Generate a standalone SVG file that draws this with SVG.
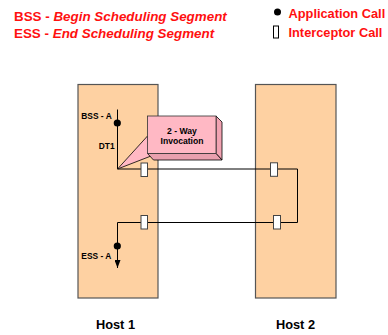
<svg xmlns="http://www.w3.org/2000/svg" width="388" height="335" viewBox="0 0 388 335">
  <style>
    .legend { font-family: "Liberation Sans", Arial, sans-serif; font-weight: bold; font-size: 13.4px; fill: #ff1010; }
    .legend .it { font-style: italic; }
    .legend.key { font-size: 12.8px; }
    .host { fill: #fed1a2; stroke: #555; stroke-width: 1.2; }
    .hostlabel { font-family: "Liberation Sans", Arial, sans-serif; font-weight: bold; font-size: 12.8px; fill: #000; text-anchor: middle; }
    .small { font-family: "Liberation Sans", Arial, sans-serif; font-weight: bold; font-size: 8.4px; fill: #000; }
    .call { font-family: "Liberation Sans", Arial, sans-serif; font-weight: bold; font-size: 8.6px; fill: #000; text-anchor: middle; }
    .wire { fill: none; stroke: #000; stroke-width: 1; }
    .icpt { fill: #fff; stroke: #444; stroke-width: 1; }
  </style>
  <defs>
    <marker id="arrow" viewBox="0 0 8 6" refX="8" refY="3" markerWidth="8" markerHeight="6" markerUnits="userSpaceOnUse" orient="auto">
      <path d="M0,0 L8,3 L0,6 Z" fill="#000"/>
    </marker>
  </defs>
  <rect width="388" height="335" fill="#fff"/>

  <!-- legend -->
  <g id="legend">
    <text class="legend" x="14" y="21">BSS - <tspan class="it">Begin Scheduling Segment</tspan></text>
    <text class="legend" x="14" y="38">ESS - <tspan class="it">End Scheduling Segment</tspan></text>
    <circle cx="277.5" cy="12" r="3.5" fill="#000"/>
    <text class="legend key" x="288.5" y="18">Application Call</text>
    <rect x="273.5" y="26" width="5" height="12" fill="#fff" stroke="#000" stroke-width="1"/>
    <text class="legend key" x="288.5" y="37">Interceptor Call</text>
  </g>

  <!-- hosts -->
  <g id="host1">
    <rect class="host" x="78" y="84.5" width="80" height="213.5"/>
    <text class="hostlabel" x="115.5" y="329">Host 1</text>
  </g>
  <g id="host2">
    <rect class="host" x="255.5" y="84.5" width="80.5" height="213.5"/>
    <text class="hostlabel" x="295.5" y="329">Host 2</text>
  </g>

  <!-- call path -->
  <g id="connectors">
    <path class="wire" d="M117.5,109.5 V169 H297.5 V222.5 H117.5 V268" marker-end="url(#arrow)"/>
  </g>

  <!-- application calls -->
  <g id="bss">
    <circle cx="117.3" cy="123" r="3.6" fill="#000"/>
    <text class="small" x="81.3" y="119">BSS - A</text>
    <text class="small" x="98.8" y="149">DT1</text>
  </g>
  <g id="ess">
    <circle cx="117.3" cy="246" r="3.6" fill="#000"/>
    <text class="small" x="81.3" y="258.5">ESS - A</text>
  </g>

  <!-- interceptor calls -->
  <g id="interceptors">
    <rect class="icpt" x="141" y="163" width="6.5" height="13.5"/>
    <rect class="icpt" x="270.5" y="162.8" width="7" height="13.5"/>
    <rect class="icpt" x="141" y="215.5" width="6.5" height="13.5"/>
    <rect class="icpt" x="273.5" y="215.5" width="7" height="13.5"/>
  </g>

  <!-- callout -->
  <g id="callout">
    <polygon points="147.5,136 117.5,169 151,156" fill="#ffb8c4" stroke="#000" stroke-width="0.8"/>
    <polygon points="216,116 222,122 222,160 216,153.5" fill="#f2a3b2" stroke="#000" stroke-width="0.8"/>
    <polygon points="147.5,153.5 216,153.5 222,160 153.5,160" fill="#e9a0ae" stroke="#000" stroke-width="0.8"/>
    <rect x="147.5" y="116" width="68.5" height="37.5" fill="#ffb8c4" stroke="#333" stroke-width="0.8"/>
    <text class="call" x="182" y="133.5">2 -  Way</text>
    <text class="call" x="182" y="143.5">Invocation</text>
  </g>
</svg>
